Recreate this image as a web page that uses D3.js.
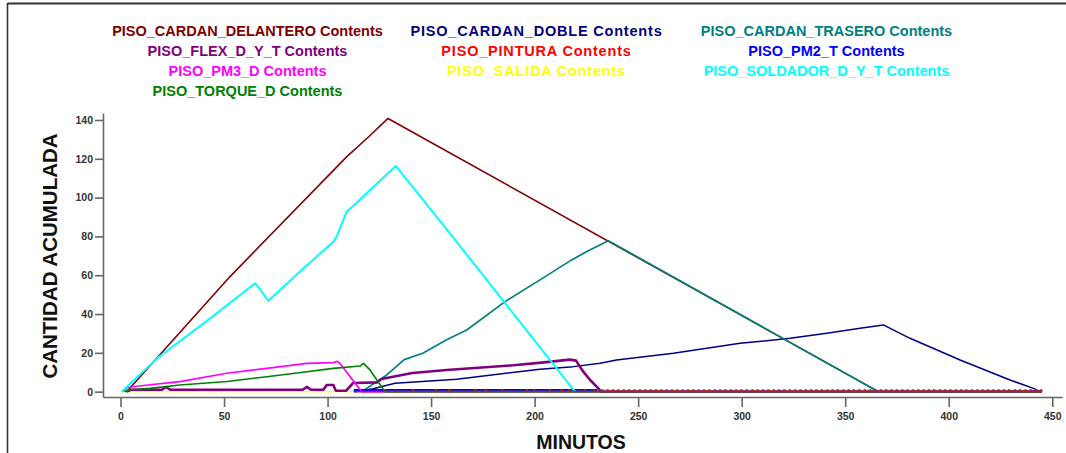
<!DOCTYPE html>
<html>
<head>
<meta charset="utf-8">
<script src="https://cdn.jsdelivr.net/npm/d3@7"></script>
<style>
  body { margin: 0; background: #fff; }
  svg { display: block; font-family: "Liberation Sans", Arial, sans-serif; }
</style>
</head>
<body>
<svg id="chart" width="1066" height="453"></svg>
<script>
// ---- Data: accumulated contents per floor area over time, as [minute, count] ----
const seriesNames = [
  "PISO_CARDAN_DELANTERO", "PISO_CARDAN_DOBLE", "PISO_CARDAN_TRASERO",
  "PISO_FLEX_D_Y_T", "PISO_PINTURA", "PISO_PM2_T",
  "PISO_PM3_D", "PISO_SALIDA", "PISO_SOLDADOR_D_Y_T",
  "PISO_TORQUE_D"
];
const seriesColors = [
  "#800000", "#000080", "#008080",
  "#800080", "#ff0000", "#0000ff",
  "#ff00ff", "#ffff00", "#00ffff",
  "#008000"
];

const cardanDelantero = [[3,0],[52.9,59.3],[109.2,121],[120,131.5],[129.2,140.8],[366,0],[445,0]];
const cardanDoble = [[113,0],[122,1.5],[132.6,4.3],[162.4,6.4],[202.6,11.6],[218.7,12.9],[231.6,14.6],
  [239.6,16.3],[267,19.8],[299.2,24.9],[323.4,27.5],[341.1,30.1],[357.2,32.7],[368.4,34.4],
  [381.3,27.5],[405.5,16.3],[429.6,6],[440.9,1.7],[444,0]];
const cardanTrasero = [[116.5,0],[128.6,8.6],[137,16.5],[146,19.8],[157.5,26.7],[167.2,31.8],
  [185.7,46.4],[202.6,57.6],[217.9,67.9],[225.2,72.2],[235.6,77.8],[366,0]];
const flexDYT = [[3,0],[5,1],[20,1],[22,2.4],[24,1],[88,1],[90,2.5],[92,1],[98,1],[99.6,3.4],
  [102.8,3.4],[104,0.5],[109,0.5],[112.4,4.5],[124,4.8],[126,6.5],[141,9.6],[157.5,11.2],
  [189.7,13.6],[205.8,15.2],[217,16.5],[220,16],[223.5,10.3],[226.8,6],[230.8,1.7],[232,0],[445,0]];
// minutes at which PISO_PINTURA briefly holds one unit
const pinturaPulses = [127.5,141,152,158.5,171,176,184,196,199.5,207,212.8,216.4,224,228.5,
  232.4,235.0,237.6,240.1,242.8,245.3,247.9,250.6,253.1,255.7,258.3,260.9,263.4,266.0,268.7,
  271.2,273.8,276.4,279.0,281.5,284.1,286.8,289.3,291.9,294.5,297.1,299.6,302.2,304.9,307.4,
  310.0,312.6,315.2,317.7,320.3,323.0,325.5,328.1,330.7,333.3,335.8,338.4,341.1,343.6,346.2,
  348.8,351.4,353.9,356.5,359.2,361.7,364.3,366.9,369.5,372.0,374.6,377.3,379.8,382.4,385.0,
  387.6,390.1,392.7,395.4,397.9,400.5,403.1,405.7,408.2,410.8,413.5,416.0,418.6,421.2,423.8,
  426.3,428.9,431.6,434.1,436.7,439.3,441.9,444.4];
const pinturaRange = [113, 445];
// intervals in which PISO_PM2_T alternates between 0 and 1
const pm2Busy = [[113, 230]];
const pm3D = [[1.4,0],[3,2],[7.8,2.8],[28.7,5.2],[51.3,9.5],[70.6,12],[90,14.6],[102.8,15],
  [104.7,15.6],[106,14.5],[116.5,0],[445,0]];
const salida = [[0,0],[445,0]];
const soldadorDYT = [[0.6,0],[18.3,17.7],[42.4,37],[65,55.9],[66.5,54],[71.4,46.8],[86.7,61.9],
  [102.8,77.3],[104.4,79.9],[109.2,92.8],[111.7,95],[132.9,116.3],[159.1,81.6],[219.5,0]];
const torqueD = [[2,0],[4,1],[14.3,1.7],[28.7,3.4],[51.3,5.2],[70.6,7.7],[90,10.3],[102.8,12],
  [115.7,13.2],[117.3,14.6],[120.5,11.2],[127.7,0],[445,0]];

const xTicks = [0, 50, 100, 150, 200, 250, 300, 350, 400, 450];
const yTicks = [0, 20, 40, 60, 80, 100, 120, 140];

// ---- Layout ----
const svg = d3.select("#chart");
svg.append("rect").attr("width", 1066).attr("height", 453).attr("fill", "#fff");

// outer frame (top and left edges)
svg.append("line").attr("x1", 7.5).attr("x2", 1066).attr("y1", 3.5).attr("y2", 3.5)
  .attr("stroke", "#333").attr("stroke-width", 2);
svg.append("line").attr("x1", 7.5).attr("x2", 7.5).attr("y1", 3).attr("y2", 453)
  .attr("stroke", "#333").attr("stroke-width", 1.6);

const x = d3.scaleLinear().domain([-8.45, 454.7]).range([103, 1062]);
const y = d3.scaleLinear().domain([-2.75, 143.6]).range([397, 113]);

// ---- Axes ----
function styleAxis(g) {
  g.select(".domain").attr("stroke", "#666").attr("stroke-width", 1.6);
  g.selectAll(".tick line").attr("stroke", "#666").attr("stroke-width", 1.6);
  g.selectAll(".tick text").attr("fill", "#333").attr("font-size", "10.5px")
    .attr("font-weight", "bold").attr("font-family", "'Liberation Sans', Arial, sans-serif");
}
svg.append("g").attr("transform", "translate(0,397)")
  .call(d3.axisBottom(x).tickValues(xTicks).tickSize(10).tickPadding(6).tickSizeOuter(0))
  .call(styleAxis);
svg.append("g").attr("transform", "translate(103,0)")
  .call(d3.axisLeft(y).tickValues(yTicks).tickSize(8).tickPadding(2).tickSizeOuter(0))
  .call(styleAxis);

// axis titles
svg.append("text").attr("transform", "translate(49,256) rotate(-90)")
  .attr("text-anchor", "middle").attr("dominant-baseline", "central")
  .attr("font-size", "20.5px").attr("font-weight", "bold").attr("fill", "#111")
  .text("CANTIDAD ACUMULADA");
svg.append("text").attr("x", 581).attr("y", 449).attr("text-anchor", "middle")
  .attr("font-size", "19.5px").attr("font-weight", "bold").attr("fill", "#111")
  .text("MINUTOS");

// ---- Legend (three columns, row-major) ----
const legendCols = [247.5, 536.5, 826.5];
const legendSpacing = [0, 0.8, 0];
const legend = svg.append("g");
seriesNames.forEach((name, i) => {
  legend.append("text")
    .attr("x", legendCols[i % 3]).attr("y", 36 + 20 * Math.floor(i / 3))
    .attr("text-anchor", "middle").attr("font-size", "14.5px").attr("font-weight", "bold")
    .attr("letter-spacing", legendSpacing[i % 3] + "px")
    .attr("fill", seriesColors[i]).text(name + " Contents");
});

// ---- Series ----
const plot = svg.append("g");
const line = d3.line().x(d => x(d[0])).y(d => y(d[1]));
function drawLine(data, color, width) {
  plot.append("path").datum(data).attr("d", line).attr("fill", "none")
    .attr("stroke", color).attr("stroke-width", width).attr("stroke-linejoin", "round");
}

drawLine(salida, seriesColors[7], 1.2);
drawLine(cardanDelantero, seriesColors[0], 1.6);
drawLine(cardanDoble, seriesColors[1], 1.5);
drawLine(cardanTrasero, seriesColors[2], 1.7);
drawLine(flexDYT, seriesColors[3], 2.6);

// PM2_T: rapid 0/1 alternation, drawn as a filled band
const band = d3.area().x(d => x(d)).y0(y(0)).y1(y(1));
pm2Busy.forEach(iv => {
  plot.append("path").datum(iv).attr("d", band).attr("fill", seriesColors[5])
    .attr("stroke", seriesColors[5]).attr("stroke-width", 1.4);
});

drawLine(pm3D, seriesColors[6], 1.7);
drawLine(soldadorDYT, seriesColors[8], 2);

// PINTURA: short one-unit pulses
const pulsePts = [[pinturaRange[0], 0]];
pinturaPulses.forEach(t => { pulsePts.push([t, 1], [t + 0.6, 0]); });
pulsePts.push([pinturaRange[1], 0]);
plot.append("path").datum(pulsePts)
  .attr("d", d3.line().x(d => x(d[0])).y(d => y(d[1])).curve(d3.curveStepAfter))
  .attr("fill", "none").attr("stroke", seriesColors[4]).attr("stroke-width", 1.1);

drawLine(torqueD, seriesColors[9], 1.6);
</script>
</body>
</html>
